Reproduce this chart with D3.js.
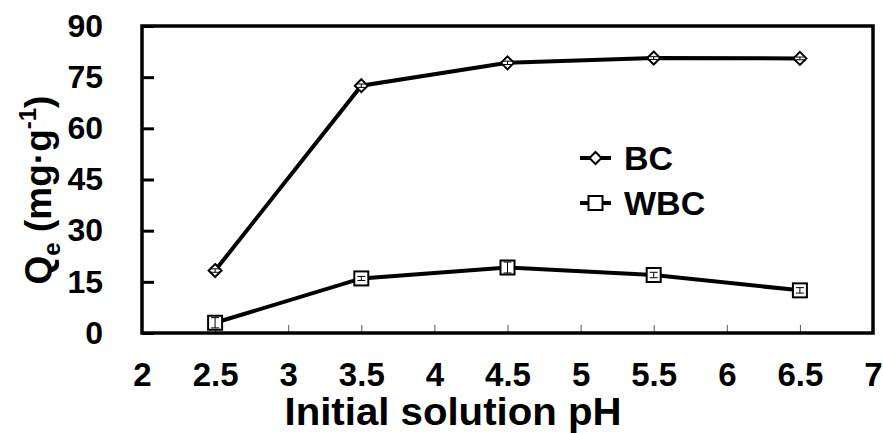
<!DOCTYPE html>
<html><head><meta charset="utf-8">
<script src="https://cdn.jsdelivr.net/npm/d3@7"></script>
<style>html,body{margin:0;padding:0;background:#fff;}svg{display:block;}
text{font-family:"Liberation Sans",Arial,sans-serif;font-weight:bold;fill:#000;}</style>
</head><body>
<script>
const pH = [2.5, 3.5, 4.5, 5.5, 6.5];
const bcValues = [18.3, 72.5, 79.2, 80.6, 80.5];
const bcErrors = [0.5, 0.5, 0.5, 0.4, 0.4];
const wbcValues = [3.0, 16.0, 19.2, 17.0, 12.5];
const wbcErrors = [1.5, 0.6, 1.6, 0.8, 0.8];
const xTicks = [2, 2.5, 3, 3.5, 4, 4.5, 5, 5.5, 6, 6.5, 7];
const yTicks = [0, 15, 30, 45, 60, 75, 90];
const seriesNames = ["BC", "WBC"];

const W = 883, H = 433;
const m = {left: 142, right: 873, top: 26, bottom: 333};
const svg = d3.select("body").append("svg").attr("width", W).attr("height", H);
const x = d3.scaleLinear().domain([2, 7]).range([m.left, m.right]);
const y = d3.scaleLinear().domain([0, 90]).range([m.bottom, m.top]);

// x axis ticks (thin, inward)
const xAxis = d3.axisBottom(x).tickValues(xTicks).tickSize(-8).tickPadding(30)
  .tickFormat(d => String(d));
const gx = svg.append("g").attr("transform", `translate(0,${m.bottom})`).call(xAxis);
gx.select(".domain").remove();
gx.selectAll(".tick line").attr("stroke", "#555").attr("stroke-width", 1);
gx.selectAll(".tick text").style("font-size", "33px").attr("dy", "0.71em");

// y axis ticks (thick, inward)
const yAxis = d3.axisLeft(y).tickValues(yTicks).tickSize(-12).tickPadding(39)
  .tickFormat(d => String(d));
const gy = svg.append("g").attr("transform", `translate(${m.left},0)`).call(yAxis);
gy.select(".domain").remove();
gy.selectAll(".tick line").attr("stroke", "#000").attr("stroke-width", 3);
gy.selectAll(".tick text").style("font-size", "32px");

// frame
svg.append("rect").attr("x", m.left).attr("y", m.top)
  .attr("width", m.right - m.left).attr("height", m.bottom - m.top)
  .attr("fill", "none").attr("stroke", "#000").attr("stroke-width", 3.5);

// axis titles
svg.append("text").attr("x", 453).attr("y", 425)
  .attr("text-anchor", "middle").style("font-size", "39px")
  .attr("textLength", 337).attr("lengthAdjust", "spacingAndGlyphs")
  .text("Initial solution pH");

const yt = svg.append("text").attr("transform", "translate(51,190) rotate(-90)")
  .attr("text-anchor", "middle").style("font-size", "37px");
yt.append("tspan").text("Q");
yt.append("tspan").attr("dy", 9).style("font-size", "24px").text("e");
yt.append("tspan").attr("dy", -9).text(" (mg·g");
yt.append("tspan").attr("dy", -15).style("font-size", "24px").text("-1");
yt.append("tspan").attr("dy", 15).text(")");

const line = d3.line().x(d => x(d[0])).y(d => y(d[1]));

function drawSeries(vals, errs, shape) {
  const pts = pH.map((p, i) => [p, vals[i], errs[i]]);
  svg.append("path").datum(pts).attr("d", line)
    .attr("fill", "none").attr("stroke", "#000").attr("stroke-width", 4);
  const g = svg.append("g");
  pts.forEach(d => {
    const cx = x(d[0]), cy = y(d[1]);
    if (shape === "diamond") {
      const s = 6.5;
      g.append("path").attr("d", `M${cx},${cy - s}L${cx + s},${cy}L${cx},${cy + s}L${cx - s},${cy}Z`)
        .attr("fill", "#fff").attr("stroke", "#000").attr("stroke-width", 2);
    } else {
      g.append("rect").attr("x", cx - 7).attr("y", cy - 7)
        .attr("width", 14).attr("height", 14)
        .attr("fill", "#fff").attr("stroke", "#000").attr("stroke-width", 2);
    }
    const y1 = y(d[1] + d[2]), y2 = y(d[1] - d[2]);
    g.append("line").attr("x1", cx).attr("x2", cx).attr("y1", y1).attr("y2", y2)
      .attr("stroke", "#000").attr("stroke-width", 1);
    [y1, y2].forEach(yy => g.append("line").attr("x1", cx - 4).attr("x2", cx + 4)
      .attr("y1", yy).attr("y2", yy).attr("stroke", "#000").attr("stroke-width", 1));
  });
}
drawSeries(bcValues, bcErrors, "diamond");
drawSeries(wbcValues, wbcErrors, "square");

// legend
const leg = svg.append("g");
seriesNames.forEach((name, i) => {
  const ly = 158 + i * 45;
  leg.append("line").attr("x1", 580).attr("x2", 611).attr("y1", ly).attr("y2", ly)
    .attr("stroke", "#000").attr("stroke-width", 4);
  if (i === 0) {
    const s = 6;
    leg.append("path").attr("d", `M595.5,${ly - s}L${595.5 + s},${ly}L595.5,${ly + s}L${595.5 - s},${ly}Z`)
      .attr("fill", "#fff").attr("stroke", "#000").attr("stroke-width", 2);
  } else {
    leg.append("rect").attr("x", 588.5).attr("y", ly - 7).attr("width", 14).attr("height", 14)
      .attr("fill", "#fff").attr("stroke", "#000").attr("stroke-width", 2);
  }
  leg.append("text").attr("x", 624).attr("y", ly + 12).style("font-size", "34px").text(name);
});
</script>
</body></html>
